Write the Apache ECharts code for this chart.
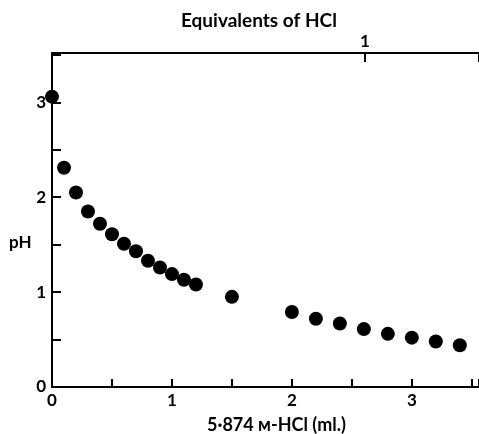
<!DOCTYPE html>
<html>
<head>
<meta charset="utf-8">
<script src="https://cdn.jsdelivr.net/npm/echarts@6/dist/echarts.min.js"></script>
<style>
  html, body { margin: 0; padding: 0; background: #fff; }
  #chart { width: 479px; height: 434px; }
</style>
</head>
<body>
<div id="chart"></div>
<script>
// titration data: ml of 5.874 M HCl vs pH
const mlHcl = [0, 0.1, 0.2, 0.3, 0.4, 0.5, 0.6, 0.7, 0.8, 0.9, 1.0, 1.1, 1.2, 1.5, 2.0, 2.2, 2.4, 2.6, 2.8, 3.0, 3.2, 3.4]
const phValues = [3.06, 2.31, 2.05, 1.85, 1.72, 1.61, 1.51, 1.43, 1.33, 1.26, 1.19, 1.13, 1.08, 0.95, 0.79, 0.72, 0.67, 0.61, 0.56, 0.52, 0.48, 0.44]

// axis ranges
const xMax = 3.56
const yMax = 3.52
const mlPerEquiv = 2.61

const font = 'Lato, "DejaVu Sans", sans-serif'
const chart = echarts.init(document.getElementById('chart'))

const option = {
  animation: false,
  title: {
    text: 'Equivalents of HCl',
    left: 176,
    top: 6,
    textStyle: { fontFamily: font, fontWeight: 'bold', fontSize: 19, color: '#000' }
  },
  graphic: [
    {
      type: 'text',
      left: 9,
      top: 234,
      style: { text: 'pH', fontFamily: font, fontWeight: 'bold', fontSize: 17, fill: '#000' }
    }
  ],
  grid: { left: 52, right: 0, top: 53, bottom: 47, outerBoundsMode: 'none' },
  xAxis: [
    {
      type: 'value',
      min: 0,
      max: xMax,
      interval: 0.5,
      name: '5·874 м-HCl (ml.)',
      nameLocation: 'middle',
      nameGap: 29,
      nameTextStyle: { fontFamily: font, fontWeight: 'bold', fontSize: 18, color: '#000', padding: [0, 0, 0, 22] },
      axisLine: { show: true, lineStyle: { color: '#000', width: 2 } },
      axisTick: { inside: true, length: 8, lineStyle: { color: '#000', width: 2 } },
      axisLabel: {
        fontFamily: font, fontWeight: 'bold', fontSize: 17, color: '#000', margin: 5,
        formatter: v => Number.isInteger(v) ? String(v) : ''
      },
      splitLine: { show: false }
    },
    {
      type: 'value',
      position: 'top',
      min: 0,
      max: xMax / mlPerEquiv,
      interval: 1,
      axisLine: { show: true, lineStyle: { color: '#000', width: 2 } },
      axisTick: { inside: true, length: 9, lineStyle: { color: '#000', width: 2 } },
      axisLabel: {
        fontFamily: font, fontWeight: 'bold', fontSize: 17, color: '#000', margin: 3,
        formatter: v => v === 1 ? '1' : ''
      },
      splitLine: { show: false }
    }
  ],
  yAxis: {
    type: 'value',
    min: 0,
    max: yMax,
    interval: 0.5,
    axisLine: { show: true, lineStyle: { color: '#000', width: 2 } },
    axisTick: { inside: true, length: 9, lineStyle: { color: '#000', width: 2 } },
    axisLabel: {
      fontFamily: font, fontWeight: 'bold', fontSize: 17, color: '#000', margin: 6,
      formatter: v => Number.isInteger(v) ? String(v) : ''
    },
    splitLine: { show: false }
  },
  series: [
    {
      type: 'scatter',
      xAxisIndex: 0,
      symbol: 'circle',
      symbolSize: 14,
      itemStyle: { color: '#000', opacity: 1 },
      data: mlHcl.map((x, i) => [x, phValues[i]])
    }
  ]
}

chart.setOption(option)
</script>
</body>
</html>
